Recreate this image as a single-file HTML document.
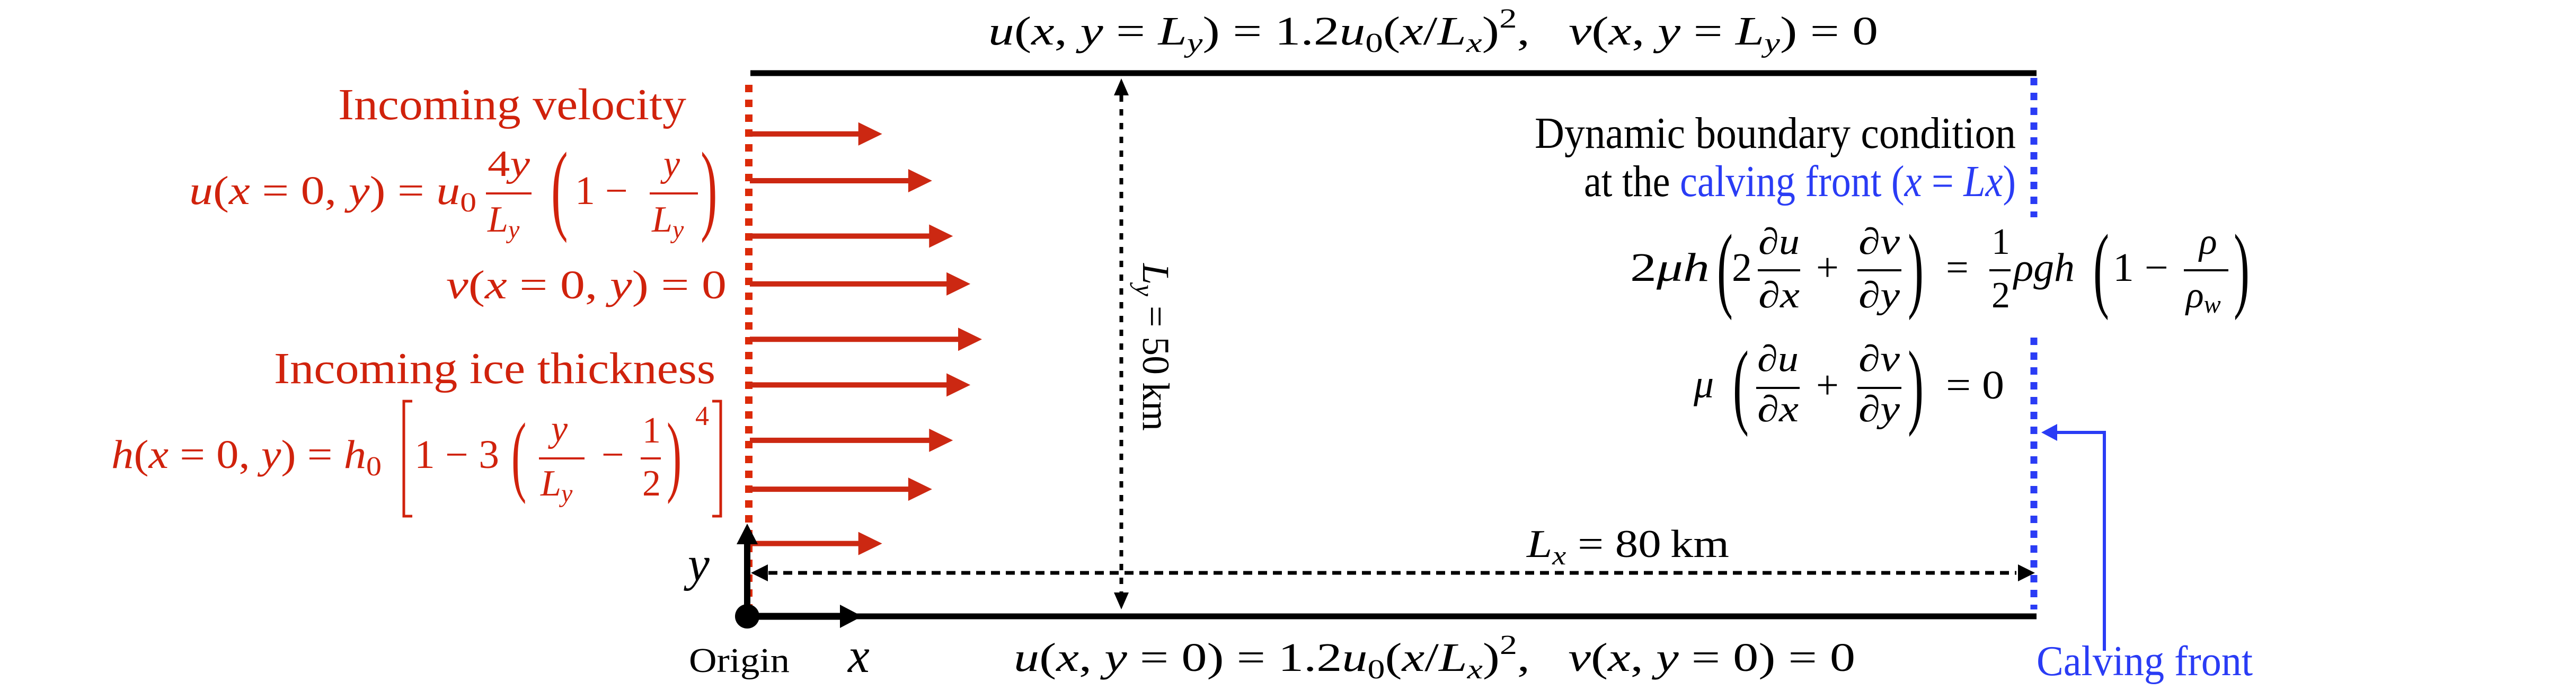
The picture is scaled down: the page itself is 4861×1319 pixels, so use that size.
<!DOCTYPE html>
<html><head><meta charset="utf-8"><style>
html,body{margin:0;padding:0;background:#fff;}
svg{display:block}
text{font-family:"Liberation Serif",serif;}
.i{font-style:italic}
.r{fill:#d0220c}
.b{fill:#2a3cf5}
</style></head><body>
<svg id="fig" width="4861" height="1319" viewBox="0 0 4861 1319" xmlns="http://www.w3.org/2000/svg">
<!-- domain boundaries -->
<line x1="1416" y1="138" x2="3843" y2="138" stroke="#000" stroke-width="11"/>
<line x1="1416" y1="1163" x2="3843" y2="1163" stroke="#000" stroke-width="11"/>
<line x1="1413" y1="160" x2="1413" y2="1160" stroke="#dc2a08" stroke-width="14" stroke-dasharray="14 14"/>
<line x1="3838" y1="147" x2="3838" y2="410" stroke="#2a3cf5" stroke-width="13" stroke-dasharray="14 14"/>
<line x1="3838" y1="637" x2="3838" y2="1150" stroke="#2a3cf5" stroke-width="13" stroke-dasharray="14 14"/>

<g id="arrows"></g>

<!-- Ly arrow -->
<line x1="2116" y1="180" x2="2116" y2="1120" stroke="#000" stroke-width="7" stroke-dasharray="12 14"/>
<polygon points="2116,148 2102,180 2130,180" fill="#000"/>
<polygon points="2116,1150 2102,1118 2130,1118" fill="#000"/>
<text transform="translate(2157,497) rotate(90)" font-size="72" textLength="316" lengthAdjust="spacingAndGlyphs"><tspan class="i">L</tspan><tspan class="i" font-size="50" dy="14">y</tspan><tspan dy="-14">&#160;= 50&#8201;km</tspan></text>

<!-- Lx arrow -->
<line x1="1450" y1="1081" x2="3805" y2="1081" stroke="#000" stroke-width="7" stroke-dasharray="17 11"/>
<polygon points="1417,1081 1449,1065 1449,1097" fill="#000"/>
<polygon points="3840,1081 3808,1065 3808,1097" fill="#000"/>
<text x="2881" y="1051" font-size="74" textLength="382" lengthAdjust="spacingAndGlyphs"><tspan class="i">L</tspan><tspan class="i" font-size="50" dy="14">x</tspan><tspan dy="-14">&#160;= 80&#8201;km</tspan></text>

<!-- origin axes -->
<line x1="1410" y1="1163" x2="1590" y2="1163" stroke="#000" stroke-width="13"/>
<polygon points="1627,1163 1585,1141 1585,1185" fill="#000"/>
<line x1="1410" y1="1163" x2="1410" y2="1020" stroke="#000" stroke-width="12"/>
<polygon points="1410,988 1390,1027 1430,1027" fill="#000"/>
<circle cx="1410" cy="1163" r="23" fill="#000"/>
<text x="1300" y="1268" font-size="66" textLength="190" lengthAdjust="spacingAndGlyphs">Origin</text>
<text class="i" x="1600" y="1268" font-size="92">x</text>
<text class="i" x="1298" y="1095" font-size="92">y</text>

<!-- top & bottom BCs -->
<text x="1865" y="84" font-size="76" textLength="1679" lengthAdjust="spacingAndGlyphs"><tspan class="i">u</tspan>(<tspan class="i">x</tspan>, <tspan class="i">y</tspan> = <tspan class="i">L</tspan><tspan class="i" font-size="52" dy="14">y</tspan><tspan dy="-14">) = 1.2</tspan><tspan class="i">u</tspan><tspan font-size="52" dy="14">0</tspan><tspan dy="-14">(</tspan><tspan class="i">x</tspan>/<tspan class="i">L</tspan><tspan class="i" font-size="52" dy="14">x</tspan><tspan dy="-14">)</tspan><tspan font-size="52" dy="-32">2</tspan><tspan dy="32">,&#160;&#160;&#160;</tspan><tspan class="i">v</tspan>(<tspan class="i">x</tspan>, <tspan class="i">y</tspan> = <tspan class="i">L</tspan><tspan class="i" font-size="52" dy="14">y</tspan><tspan dy="-14">) = 0</tspan></text>
<text x="1913" y="1266" font-size="76" textLength="1588" lengthAdjust="spacingAndGlyphs"><tspan class="i">u</tspan>(<tspan class="i">x</tspan>, <tspan class="i">y</tspan> = 0) = 1.2<tspan class="i">u</tspan><tspan font-size="52" dy="14">0</tspan><tspan dy="-14">(</tspan><tspan class="i">x</tspan>/<tspan class="i">L</tspan><tspan class="i" font-size="52" dy="14">x</tspan><tspan dy="-14">)</tspan><tspan font-size="52" dy="-32">2</tspan><tspan dy="32">,&#160;&#160;&#160;</tspan><tspan class="i">v</tspan>(<tspan class="i">x</tspan>, <tspan class="i">y</tspan> = 0) = 0</text>

<!-- left red annotations -->
<text class="r" x="638" y="225" font-size="84" textLength="657" lengthAdjust="spacingAndGlyphs">Incoming velocity</text>
<g class="r">
<text class="r" x="357" y="385" font-size="76" textLength="542" lengthAdjust="spacingAndGlyphs"><tspan class="i">u</tspan>(<tspan class="i">x</tspan> = 0, <tspan class="i">y</tspan>) = <tspan class="i">u</tspan><tspan font-size="52" dy="14">0</tspan></text>
<text class="r" x="920" y="332" font-size="70" textLength="80" lengthAdjust="spacingAndGlyphs">4<tspan class="i">y</tspan></text>
<rect x="917" y="363" width="86" height="4" fill="#d0220c"/>
<text class="r" x="920" y="437" font-size="70"><tspan class="i">L</tspan><tspan class="i" font-size="48" dy="12">y</tspan></text>
<text class="r" x="1040" y="418" font-size="190" transform="translate(1040,418) scale(0.5,1) translate(-1040,-418)">(</text>
<text class="r" x="1085" y="385" font-size="76">1 −</text>
<text class="r" x="1252" y="332" font-size="70" class="i"><tspan class="i">y</tspan></text>
<rect x="1226" y="363" width="91" height="4" fill="#d0220c"/>
<text class="r" x="1230" y="437" font-size="70"><tspan class="i">L</tspan><tspan class="i" font-size="48" dy="12">y</tspan></text>
<text class="r" x="1322" y="418" font-size="190" transform="translate(1322,418) scale(0.5,1) translate(-1322,-418)">)</text>
</g>
<text class="r" x="842" y="563" font-size="76" textLength="529" lengthAdjust="spacingAndGlyphs"><tspan class="i">v</tspan>(<tspan class="i">x</tspan> = 0, <tspan class="i">y</tspan>) = 0</text>
<text class="r" x="517" y="723" font-size="84" textLength="833" lengthAdjust="spacingAndGlyphs">Incoming ice thickness</text>
<g>
<text class="r" x="210" y="883" font-size="76" textLength="510" lengthAdjust="spacingAndGlyphs"><tspan class="i">h</tspan>(<tspan class="i">x</tspan> = 0, <tspan class="i">y</tspan>) = <tspan class="i">h</tspan><tspan font-size="52" dy="14">0</tspan></text>
<path d="M778,757 L762,757 L762,974 L778,974" fill="none" stroke="#d0220c" stroke-width="5"/>
<text class="r" x="782" y="883" font-size="76" textLength="160" lengthAdjust="spacingAndGlyphs">1 − 3</text>
<text class="r" x="965" y="915" font-size="170" transform="translate(965,915) scale(0.5,1) translate(-965,-915)">(</text>
<text class="r" x="1040" y="832" font-size="70"><tspan class="i">y</tspan></text>
<rect x="1017" y="863" width="86" height="4" fill="#d0220c"/>
<text class="r" x="1020" y="935" font-size="70"><tspan class="i">L</tspan><tspan class="i" font-size="48" dy="12">y</tspan></text>
<text class="r" x="1135" y="883" font-size="76">−</text>
<text class="r" x="1212" y="835" font-size="70">1</text>
<rect x="1209" y="863" width="38" height="4" fill="#d0220c"/>
<text class="r" x="1212" y="935" font-size="70">2</text>
<text class="r" x="1258" y="915" font-size="170" transform="translate(1258,915) scale(0.5,1) translate(-1258,-915)">)</text>
<text class="r" x="1312" y="802" font-size="52">4</text>
<path d="M1344,757 L1360,757 L1360,974 L1344,974" fill="none" stroke="#d0220c" stroke-width="5"/>
</g>

<!-- right side -->
<text x="2896" y="279" font-size="84" textLength="908" lengthAdjust="spacingAndGlyphs">Dynamic boundary condition</text>
<text x="2989" y="370" font-size="84" textLength="815" lengthAdjust="spacingAndGlyphs">at the <tspan class="b">calving front (</tspan><tspan class="b i">x</tspan><tspan class="b"> = </tspan><tspan class="b i">Lx</tspan><tspan class="b">)</tspan></text>

<g>
<text x="3076" y="530" font-size="76" textLength="150" lengthAdjust="spacingAndGlyphs">2<tspan class="i">μh</tspan></text>
<text x="3240" y="566" font-size="180" transform="translate(3240,566) scale(0.5,1) translate(-3240,-566)">(</text>
<text x="3268" y="530" font-size="76">2</text>
<text x="3318" y="479" font-size="70" textLength="78" lengthAdjust="spacingAndGlyphs">∂<tspan class="i">u</tspan></text>
<rect x="3317" y="508" width="80" height="4"/>
<text x="3318" y="580" font-size="70" textLength="78" lengthAdjust="spacingAndGlyphs">∂<tspan class="i">x</tspan></text>
<text x="3427" y="530" font-size="76">+</text>
<text x="3507" y="479" font-size="70" textLength="78" lengthAdjust="spacingAndGlyphs">∂<tspan class="i">v</tspan></text>
<rect x="3505" y="508" width="83" height="4"/>
<text x="3507" y="580" font-size="70" textLength="78" lengthAdjust="spacingAndGlyphs">∂<tspan class="i">y</tspan></text>
<text x="3600" y="566" font-size="180" transform="translate(3600,566) scale(0.5,1) translate(-3600,-566)">)</text>
<text x="3672" y="530" font-size="76">=</text>
<text x="3758" y="479" font-size="70">1</text>
<rect x="3754" y="508" width="40" height="4"/>
<text x="3758" y="580" font-size="70">2</text>
<text x="3800" y="530" font-size="76" textLength="115" lengthAdjust="spacingAndGlyphs" class="i">ρgh</text>
<text x="3950" y="566" font-size="180" transform="translate(3950,566) scale(0.5,1) translate(-3950,-566)">(</text>
<text x="3987" y="530" font-size="76" textLength="105" lengthAdjust="spacingAndGlyphs">1 −</text>
<text x="4150" y="479" font-size="70" class="i">ρ</text>
<rect x="4121" y="508" width="84" height="4"/>
<text x="4125" y="580" font-size="70"><tspan class="i">ρ</tspan><tspan class="i" font-size="48" dy="10">w</tspan></text>
<text x="4215" y="566" font-size="180" transform="translate(4215,566) scale(0.5,1) translate(-4215,-566)">)</text>
</g>
<g>
<text x="3196" y="750" font-size="76" class="i">μ</text>
<text x="3270" y="786" font-size="180" transform="translate(3270,786) scale(0.5,1) translate(-3270,-786)">(</text>
<text x="3316" y="700" font-size="70" textLength="78" lengthAdjust="spacingAndGlyphs">∂<tspan class="i">u</tspan></text>
<rect x="3314" y="730" width="82" height="4"/>
<text x="3316" y="795" font-size="70" textLength="78" lengthAdjust="spacingAndGlyphs">∂<tspan class="i">x</tspan></text>
<text x="3427" y="752" font-size="76">+</text>
<text x="3507" y="700" font-size="70" textLength="78" lengthAdjust="spacingAndGlyphs">∂<tspan class="i">v</tspan></text>
<rect x="3505" y="730" width="83" height="4"/>
<text x="3507" y="795" font-size="70" textLength="78" lengthAdjust="spacingAndGlyphs">∂<tspan class="i">y</tspan></text>
<text x="3600" y="786" font-size="180" transform="translate(3600,786) scale(0.5,1) translate(-3600,-786)">)</text>
<text x="3672" y="752" font-size="76" textLength="110" lengthAdjust="spacingAndGlyphs">= 0</text>
</g>

<!-- calving front pointer -->
<polyline points="3971,1228 3971,816 3880,816" fill="none" stroke="#2a3cf5" stroke-width="6"/>
<polygon points="3852,816 3882,800 3882,832" fill="#2a3cf5"/>
<text class="b" x="3843" y="1274" font-size="80" textLength="408" lengthAdjust="spacingAndGlyphs">Calving front</text>
</svg>
<script>
// inflow velocity profile: arrow positions (km from bottom) and normalized speeds
const arrowY = [44.4, 40.1, 35.0, 30.6, 25.5, 21.3, 16.2, 11.7, 6.7];
const arrowSpeed = [0.57, 0.785, 0.875, 0.95, 1.0, 0.95, 0.875, 0.785, 0.57];
const LyKm = 50;
const yPix = function (km) { return 1163 - (km / LyKm) * (1163 - 138); };
const lenPix = function (v) { return v * 438; };
const x0 = 1415;
const NS = 'http://www.w3.org/2000/svg';
const g = document.getElementById('arrows');
for (let k = 0; k < arrowY.length; k++) {
  const y = yPix(arrowY[k]);
  const tip = x0 + lenPix(arrowSpeed[k]);
  const shaft = document.createElementNS(NS, 'line');
  
  
  shaft.setAttribute('x1', x0);
  shaft.setAttribute('x2', tip - 40);
  shaft.setAttribute('y1', y);
  shaft.setAttribute('y2', y);
  shaft.setAttribute('stroke', '#cc2812');
  shaft.setAttribute('stroke-width', '10');
  g.appendChild(shaft);
  const head = document.createElementNS(NS, 'polygon');
  
  
  head.setAttribute('points', tip + ',' + y + ' ' + (tip - 45) + ',' + (y - 22) + ' ' + (tip - 45) + ',' + (y + 22));
  head.setAttribute('fill', '#cc2812');
  g.appendChild(head);
}
</script>
</body></html>
